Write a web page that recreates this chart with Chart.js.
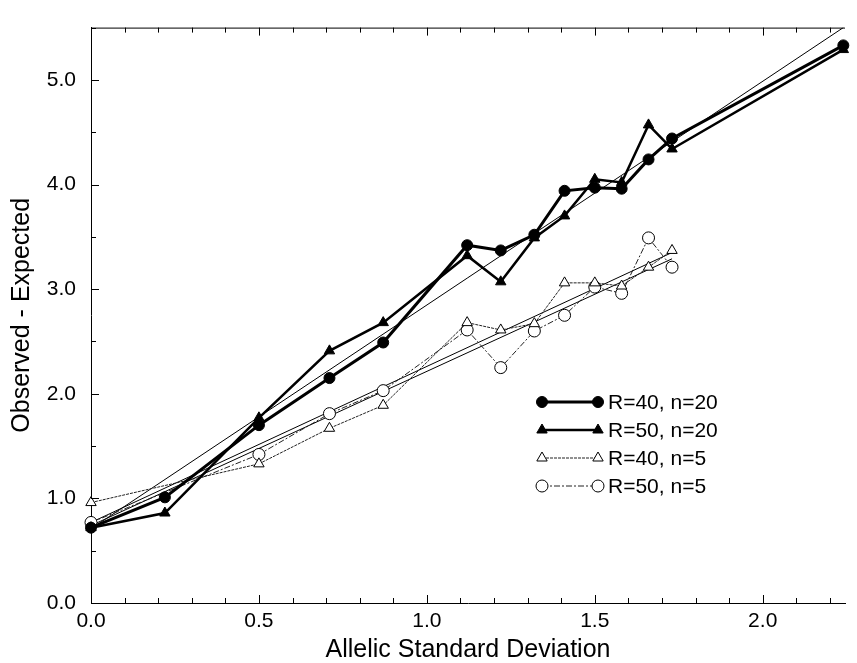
<!DOCTYPE html>
<html>
<head>
<meta charset="utf-8">
<script src="https://cdn.jsdelivr.net/npm/chart.js@4.4.0/dist/chart.umd.min.js"></script>
<style>
  html, body { margin: 0; padding: 0; background: #fff; }
  #wrap { width: 857px; height: 663px; }
</style>
</head>
<body>
<div id="wrap"><canvas id="chart" width="857" height="663"></canvas></div>
<script>
// allelic standard deviation (x) and observed - expected (y) per run
const sdX = [0, 0.22, 0.50, 0.71, 0.87, 1.12, 1.22, 1.32, 1.41, 1.50, 1.58, 1.66, 1.73, 2.24];
const r40n20 = [0.72, 1.01, 1.70, 2.15, 2.49, 3.42, 3.37, 3.52, 3.94, 3.97, 3.96, 4.24, 4.44, 5.33];
const r50n20 = [0.72, 0.86, 1.77, 2.41, 2.68, 3.32, 3.07, 3.49, 3.70, 4.05, 4.02, 4.57, 4.34, 5.29];
const r40n5 = [0.96, null, 1.33, 1.67, 1.89, 2.68, 2.61, 2.67, 3.06, 3.06, 3.03, 3.21, 3.37, null];
const r50n5 = [0.77, null, 1.42, 1.81, 2.03, 2.61, 2.25, 2.60, 2.75, 3.02, 2.96, 3.49, 3.21, null];

// straight fit lines (end points)
const fitXn20 = [0, 2.24];
const fitN20 = [0.71, 5.50];
const fitXn5 = [0, 1.73];
const fitR40n5 = [0.77, 3.35];
const fitR50n5 = [0.74, 3.29];

const seriesNames = ['R=40, n=20', 'R=50, n=20', 'R=40, n=5', 'R=50, n=5'];
const xTicks = [0, 0.5, 1.0, 1.5, 2.0];
const yTicks = [0, 1, 2, 3, 4, 5];

const FONT = '"Liberation Sans", Arial, Helvetica, sans-serif';

function pts(xs, ys) {
  return xs.map((x, i) => ({ x: x, y: ys[i] })).filter(p => p.y !== null);
}

function series(label, ys, opts) {
  return Object.assign({
    label: label,
    data: pts(sdX, ys),
    showLine: true,
    borderColor: '#000',
    pointBorderColor: '#000',
    clip: false
  }, opts);
}

function fitLine(xs, ys) {
  return {
    label: 'fit',
    data: pts(xs, ys),
    showLine: true,
    borderColor: '#000',
    borderWidth: 1,
    pointRadius: 0
  };
}

const datasets = [
  series(seriesNames[0], r40n20, { borderWidth: 3, pointStyle: 'circle', pointRadius: 5.5, pointBackgroundColor: '#000', pointBorderWidth: 1 }),
  series(seriesNames[1], r50n20, { borderWidth: 2.5, pointStyle: 'triangle', pointRadius: 6, pointBackgroundColor: '#000', pointBorderWidth: 1 }),
  series(seriesNames[2], r40n5, { borderWidth: 1, borderColor: '#222', borderDash: [3, 1], pointStyle: 'triangle', pointRadius: 6, pointBackgroundColor: '#fff', pointBorderWidth: 1 }),
  series(seriesNames[3], r50n5, { borderWidth: 1, borderColor: '#222', borderDash: [6, 2, 2, 2], pointStyle: 'circle', pointRadius: 6, pointBackgroundColor: '#fff', pointBorderWidth: 1 }),
  fitLine(fitXn20, fitN20),
  fitLine(fitXn5, fitR40n5),
  fitLine(fitXn5, fitR50n5)
];

function marker(ctx, style, x, y, r, fill) {
  ctx.beginPath();
  if (style === 'circle') {
    ctx.arc(x, y, r, 0, Math.PI * 2);
  } else {
    ctx.moveTo(x, y - r);
    ctx.lineTo(x + r * 0.866, y + r * 0.5);
    ctx.lineTo(x - r * 0.866, y + r * 0.5);
    ctx.closePath();
  }
  ctx.fillStyle = fill;
  ctx.fill();
  ctx.lineWidth = 1;
  ctx.strokeStyle = '#000';
  ctx.setLineDash([]);
  ctx.stroke();
}

// frame on top, inward tick marks, and the legend
const decor = {
  id: 'decor',
  afterDatasetsDraw(chart) {
    const ctx = chart.ctx;
    const a = chart.chartArea;
    const xs = chart.scales.x, ys = chart.scales.y;
    ctx.save();
    ctx.strokeStyle = '#000';
    ctx.lineWidth = 1;
    ctx.beginPath();
    ctx.moveTo(a.left, a.top + 0.5);
    ctx.lineTo(a.right, a.top + 0.5);
    for (let i = 0; i <= 22; i++) {
      const px = Math.round(xs.getPixelForValue(i / 10)) + 0.5;
      const len = i % 5 === 0 ? 8 : 5;
      ctx.moveTo(px, a.bottom);
      ctx.lineTo(px, a.bottom - len);
      ctx.moveTo(px, a.top);
      ctx.lineTo(px, a.top + len);
    }
    for (let i = 0; i <= 11; i++) {
      const py = Math.round(ys.getPixelForValue(i / 2)) + 0.5;
      const len = i % 2 === 0 ? 8 : 5;
      ctx.moveTo(a.left, py);
      ctx.lineTo(a.left + len, py);
    }
    ctx.stroke();

    // legend
    const lx0 = 542, lx1 = 598, tx = 608;
    let ly = 402;
    ctx.font = '21px ' + FONT;
    ctx.textBaseline = 'middle';
    ctx.textAlign = 'left';
    for (let i = 0; i < 4; i++) {
      const ds = chart.data.datasets[i];
      ctx.beginPath();
      ctx.lineWidth = ds.borderWidth;
      ctx.strokeStyle = ds.borderColor;
      ctx.setLineDash(ds.borderDash || []);
      ctx.moveTo(lx0, ly);
      ctx.lineTo(lx1, ly);
      ctx.stroke();
      marker(ctx, ds.pointStyle, lx0, ly, ds.pointRadius, ds.pointBackgroundColor);
      marker(ctx, ds.pointStyle, lx1, ly, ds.pointRadius, ds.pointBackgroundColor);
      ctx.fillStyle = '#000';
      ctx.fillText(ds.label, tx, ly + 1);
      ly += 28;
    }
    ctx.restore();
  }
};

new Chart(document.getElementById('chart'), {
  type: 'scatter',
  data: { datasets: datasets },
  options: {
    responsive: false,
    animation: false,
    layout: { padding: { top: 7, right: 12, left: 0, bottom: 0 } },
    plugins: { legend: { display: false }, tooltip: { enabled: false } },
    elements: { line: { tension: 0, fill: false } },
    scales: {
      x: {
        type: 'linear',
        min: 0,
        max: 2.245,
        afterFit(scale) { scale.height = 60; },
        grid: { display: false, drawTicks: false },
        border: { display: true, color: '#000', width: 1 },
        ticks: {
          includeBounds: false,
          stepSize: 0.5,
          padding: 6,
          color: '#000',
          font: { family: FONT, size: 21 },
          callback: v => xTicks.includes(v) ? v.toFixed(1) : ''
        },
        title: {
          display: true,
          text: 'Allelic Standard Deviation',
          color: '#000',
          font: { family: FONT, size: 25, lineHeight: 1 },
          padding: { top: 0, bottom: 0 }
        }
      },
      y: {
        type: 'linear',
        min: 0,
        max: 5.5,
        afterFit(scale) { scale.width = 91; },
        grid: { display: false, drawTicks: false },
        border: { display: true, color: '#000', width: 1 },
        ticks: {
          includeBounds: false,
          stepSize: 1,
          padding: 15,
          color: '#000',
          font: { family: FONT, size: 21 },
          callback: v => yTicks.includes(v) ? v.toFixed(1) : ''
        },
        title: {
          display: true,
          text: 'Observed - Expected',
          color: '#000',
          font: { family: FONT, size: 25, lineHeight: 1 },
          padding: { top: 10, bottom: 0 }
        }
      }
    }
  },
  plugins: [decor]
});
</script>
</body>
</html>
